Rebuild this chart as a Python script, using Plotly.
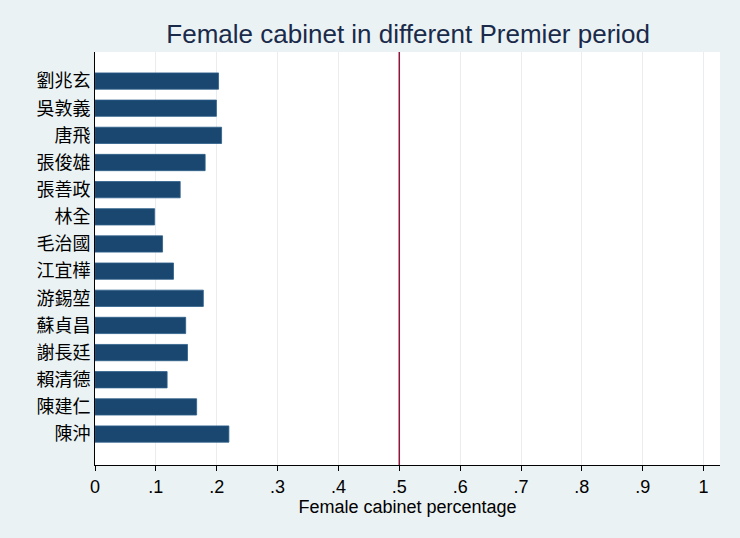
import plotly.graph_objects as go

premiers = ["劉兆玄", "吳敦義", "唐飛", "張俊雄", "張善政", "林全", "毛治國",
            "江宜樺", "游錫堃", "蘇貞昌", "謝長廷", "賴清德", "陳建仁", "陳沖"]
female_pct = [0.203, 0.1995, 0.208, 0.181, 0.140, 0.098, 0.111,
              0.129, 0.178, 0.149, 0.152, 0.1185, 0.167, 0.220]
x_ticks = [0, 0.1, 0.2, 0.3, 0.4, 0.5, 0.6, 0.7, 0.8, 0.9, 1.0]
x_tick_labels = ["0", ".1", ".2", ".3", ".4", ".5", ".6", ".7", ".8", ".9", "1"]
ref_line = 0.5

font_main = "Liberation Sans, Arial, 'Noto Sans CJK TC', sans-serif"
font_cjk = "'Noto Sans CJK TC', 'Noto Sans CJK SC', sans-serif"

fig = go.Figure()
fig.add_trace(go.Bar(
    x=female_pct,
    y=list(range(len(premiers))),
    orientation="h",
    width=0.6,
    marker=dict(color="#1a476f", line=dict(color="#2d5f8a", width=0.8)),
    showlegend=False,
))

fig.add_shape(type="line", xref="x", yref="paper", x0=ref_line, x1=ref_line, y0=0, y1=1,
              line=dict(color="#90153c", width=1.5))

fig.update_layout(
    width=740, height=538,
    paper_bgcolor="#eaf2f3",
    plot_bgcolor="#ffffff",
    margin=dict(l=95, r=20, t=52, b=73),
    title=dict(text="Female cabinet in different Premier period",
               x=0.5516, xanchor="center", y=0.937, yanchor="middle",
               font=dict(family=font_main, size=26, color="#1a2a4a")),
    font=dict(family=font_main, color="#000000"),
)

fig.update_xaxes(
    range=[0, 1.027],
    tickvals=x_ticks, ticktext=x_tick_labels,
    tickfont=dict(family=font_main, size=18, color="#000000"),
    ticks="outside", ticklen=5, tickcolor="#000000",
    showgrid=True, gridcolor="#eaedef", gridwidth=1,
    showline=True, linecolor="#000000", linewidth=1,
    zeroline=False,
    title=dict(text="Female cabinet percentage", font=dict(family=font_main, size=18, color="#000000"),
               standoff=1),
)
fig.update_yaxes(
    range=[14.14, -1.07],
    tickvals=list(range(len(premiers))), ticktext=premiers,
    tickfont=dict(family=font_cjk, size=18, color="#000000"),
    ticks="", showgrid=False,
    showline=True, linecolor="#000000", linewidth=1,
    zeroline=False,
)

fig.write_html("out.html", config={"displayModeBar": False},
               post_script="document.body.style.margin='0';document.body.style.overflow='hidden';")
